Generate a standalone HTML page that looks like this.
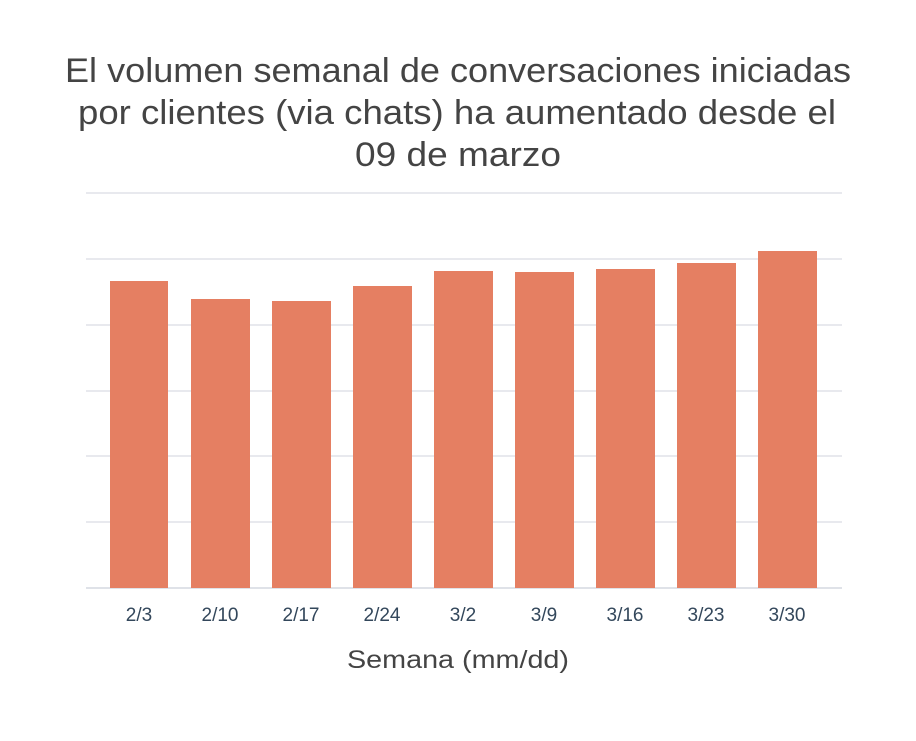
<!DOCTYPE html>
<html><head><meta charset="utf-8"><style>
body{margin:0;background:#fff;width:916px;height:736px;overflow:hidden;font-family:"Liberation Sans",sans-serif}
</style></head><body>
<svg width="916" height="736" xmlns="http://www.w3.org/2000/svg">
<g font-family="Liberation Sans, sans-serif" fill="#444" font-size="34" text-anchor="middle">
<text x="458" y="82" textLength="786" lengthAdjust="spacingAndGlyphs">El volumen semanal de conversaciones iniciadas</text>
<text x="457" y="124" textLength="758" lengthAdjust="spacingAndGlyphs">por clientes (via chats) ha aumentado desde el</text>
<text x="458" y="166" textLength="206" lengthAdjust="spacingAndGlyphs">09 de marzo</text>
</g>
<g stroke="#e8e9ee" stroke-width="2">
<line x1="86" x2="842" y1="193" y2="193"/>
<line x1="86" x2="842" y1="259" y2="259"/>
<line x1="86" x2="842" y1="325" y2="325"/>
<line x1="86" x2="842" y1="391" y2="391"/>
<line x1="86" x2="842" y1="456" y2="456"/>
<line x1="86" x2="842" y1="522" y2="522"/>
<line x1="86" x2="842" y1="588" y2="588" stroke="#dfe2e8"/>
</g>
<g fill="#e57f62">
<rect x="110" y="281" width="58" height="307"/>
<rect x="191" y="299" width="59" height="289"/>
<rect x="272" y="301" width="59" height="287"/>
<rect x="353" y="286" width="59" height="302"/>
<rect x="434" y="271" width="59" height="317"/>
<rect x="515" y="272" width="59" height="316"/>
<rect x="596" y="269" width="59" height="319"/>
<rect x="677" y="263" width="59" height="325"/>
<rect x="758" y="251" width="59" height="337"/>
</g>
<g font-size="19" fill="#33475b" text-anchor="middle">
<text x="139" y="621">2/3</text><text x="220" y="621">2/10</text><text x="301" y="621">2/17</text>
<text x="382" y="621">2/24</text><text x="463" y="621">3/2</text><text x="544" y="621">3/9</text>
<text x="625" y="621">3/16</text><text x="706" y="621">3/23</text><text x="787" y="621">3/30</text>
</g>
<text x="458" y="668" font-size="25" fill="#444" text-anchor="middle" textLength="222" lengthAdjust="spacingAndGlyphs">Semana (mm/dd)</text>
</svg>
</body></html>
